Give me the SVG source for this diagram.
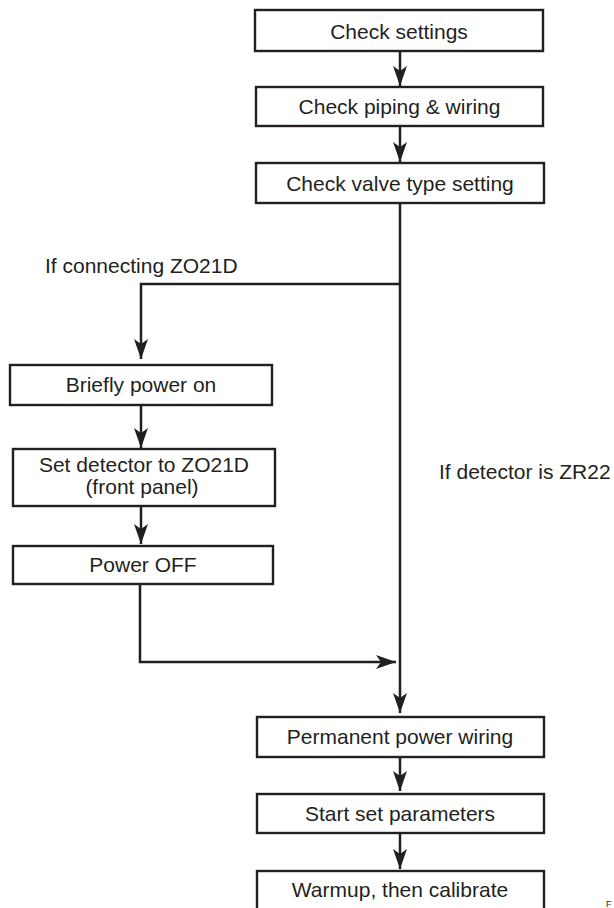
<svg xmlns="http://www.w3.org/2000/svg" width="614" height="908" viewBox="0 0 614 908">
  <style>
    .box { fill: #ffffff; stroke: #231f20; stroke-width: 2.4; }
    .lbl { font-family: "Liberation Sans", Arial, sans-serif; font-size: 21px; fill: #231f20; text-anchor: middle; }
    .note { font-family: "Liberation Sans", Arial, sans-serif; font-size: 21px; fill: #231f20; }
    .conn { fill: none; stroke: #231f20; stroke-width: 2.5; }
  </style>
  <defs>
    <marker id="arr" viewBox="0 0 20 14" refX="20" refY="7" markerWidth="20" markerHeight="14" markerUnits="userSpaceOnUse" orient="auto">
      <path d="M0,0 L20,7 L0,14 L5,7 Z" fill="#231f20"/>
    </marker>
  </defs>
  <rect width="614" height="908" fill="#ffffff"/>

  <g id="connectors">
    <line class="conn" x1="400" y1="51" x2="400" y2="86" marker-end="url(#arr)"/>
    <line class="conn" x1="400" y1="126" x2="400" y2="162" marker-end="url(#arr)"/>
    <line class="conn" x1="400" y1="203" x2="400" y2="713" marker-end="url(#arr)"/>
    <polyline class="conn" points="400,284 141,284 141,359" marker-end="url(#arr)"/>
    <line class="conn" x1="141" y1="405" x2="141" y2="448" marker-end="url(#arr)"/>
    <line class="conn" x1="141" y1="506" x2="141" y2="544" marker-end="url(#arr)"/>
    <polyline class="conn" points="140,584 140,662 396,662" marker-end="url(#arr)"/>
    <line class="conn" x1="400" y1="757" x2="400" y2="791" marker-end="url(#arr)"/>
    <line class="conn" x1="400" y1="833" x2="400" y2="869" marker-end="url(#arr)"/>
  </g>

  <g id="n-check-settings">
    <rect class="box" x="255" y="10" width="288" height="41"/>
    <text class="lbl" x="399" y="38.5">Check settings</text>
  </g>
  <g id="n-check-piping">
    <rect class="box" x="256" y="87" width="287" height="39"/>
    <text class="lbl" x="399.5" y="114">Check piping &amp; wiring</text>
  </g>
  <g id="n-check-valve">
    <rect class="box" x="256" y="163" width="288" height="40"/>
    <text class="lbl" x="400" y="190.5">Check valve type setting</text>
  </g>
  <g id="n-briefly">
    <rect class="box" x="10" y="365" width="262" height="40"/>
    <text class="lbl" x="141" y="392">Briefly power on</text>
  </g>
  <g id="n-set-detector">
    <rect class="box" x="13" y="449" width="262" height="57"/>
    <text class="lbl" x="144" y="472">Set detector to ZO21D</text>
    <text class="lbl" x="142" y="494">(front panel)</text>
  </g>
  <g id="n-power-off">
    <rect class="box" x="13" y="546" width="260" height="38"/>
    <text class="lbl" x="143" y="572">Power OFF</text>
  </g>
  <g id="n-permanent">
    <rect class="box" x="257" y="717" width="287" height="40"/>
    <text class="lbl" x="400" y="744">Permanent power wiring</text>
  </g>
  <g id="n-start">
    <rect class="box" x="257" y="794" width="287" height="39"/>
    <text class="lbl" x="400" y="821">Start set parameters</text>
  </g>
  <g id="n-warmup">
    <rect class="box" x="257" y="871" width="287" height="45"/>
    <text class="lbl" x="400" y="897">Warmup, then calibrate</text>
  </g>

  <g id="labels">
    <text class="note" x="45" y="273">If connecting ZO21D</text>
    <text class="note" x="439" y="479">If detector is ZR22</text>
    <text class="note" x="606" y="907" style="font-size:9px">F</text>
  </g>
</svg>
